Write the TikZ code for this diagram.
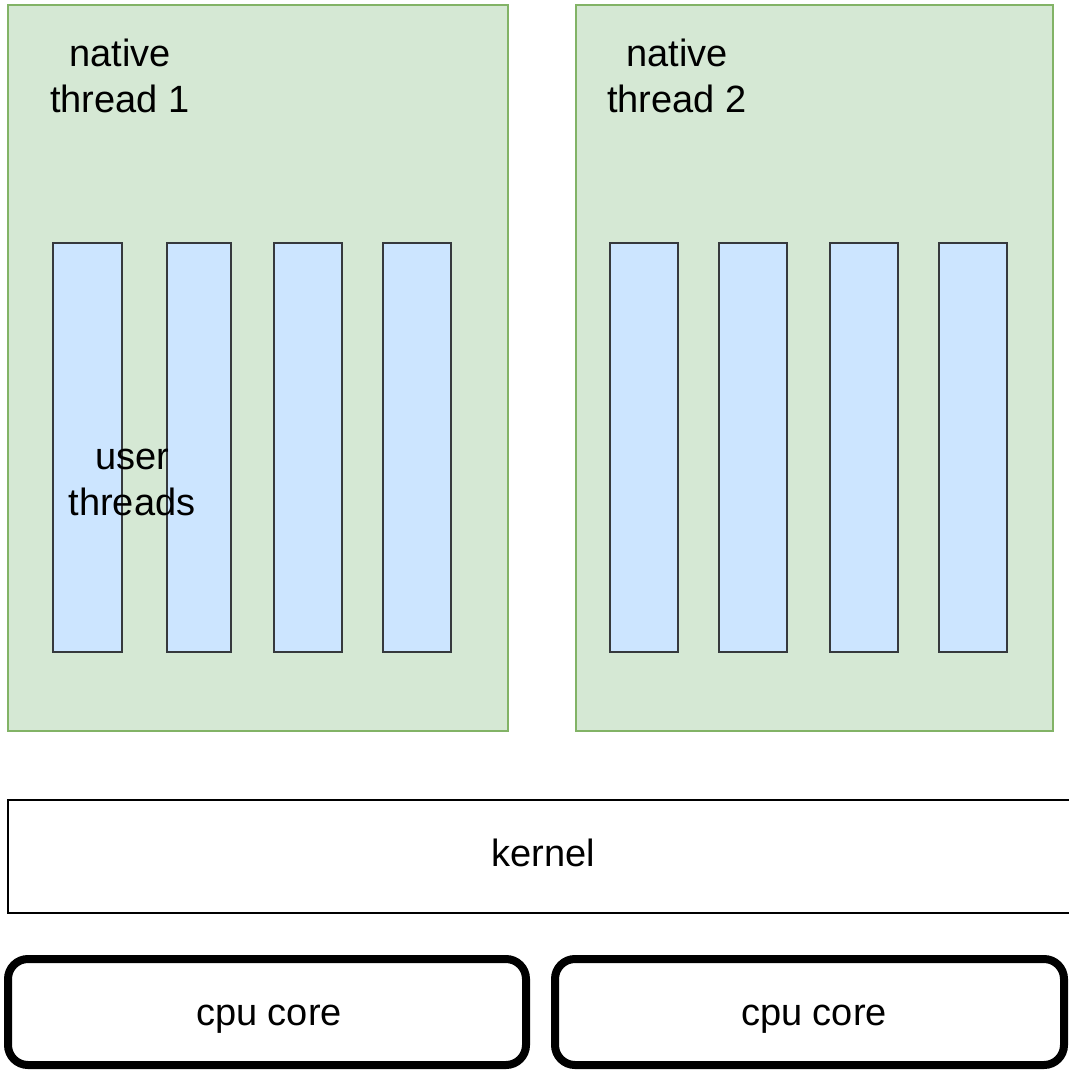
\documentclass[tikz,border=0pt]{standalone}
\usepackage{fontspec}
\setmainfont{Liberation Sans}
\begin{document}
\begin{tikzpicture}[x=1pt,y=-1pt,
  native/.style={draw={rgb,255:red,130;green,179;blue,102}, fill={rgb,255:red,213;green,232;blue,212}, line width=1.5pt},
  uthread/.style={draw={rgb,255:red,54;green,57;blue,61}, fill={rgb,255:red,204;green,229;blue,255}, line width=1.5pt},
  lbl/.style={font=\fontsize{38}{46}\selectfont, align=center, inner sep=0pt},
  cpubox/.style={draw=black, line width=8pt, rounded corners=20pt, fill=white}]
\useasboundingbox (0,0) rectangle (1068,1070);
\fill[white] (0,0) rectangle (1068,1070);
% native threads
\draw[native] (8,5) rectangle (508,731);
\draw[native] (576,5) rectangle (1053,731);
% user threads
\foreach \a/\b [count=\i] in {53/122,167/231,274/342,383/451,610/678,719/787,830/898,939/1007}
  \draw[uthread] (\a,243) rectangle (\b,652);
\node[lbl] (n1) at (120,76) {native\\thread 1};
\node[lbl] (n2) at (677,76) {native\\thread 2};
\node[lbl] (ut) at (132,482) {user\\threads};
% kernel
\draw[black, line width=1.8pt] (1075,800) -- (8,800) -- (8,913) -- (1075,913);
\node[lbl, anchor=base] (k) at (543,866) {kernel};
% cpu cores
\draw[cpubox] (8,959) rectangle (526,1065);
\draw[cpubox] (555,959) rectangle (1064,1065);
\node[lbl, anchor=base] (c1) at (269,1025) {cpu core};
\node[lbl, anchor=base] (c2) at (814,1025) {cpu core};
\end{tikzpicture}
\end{document}
